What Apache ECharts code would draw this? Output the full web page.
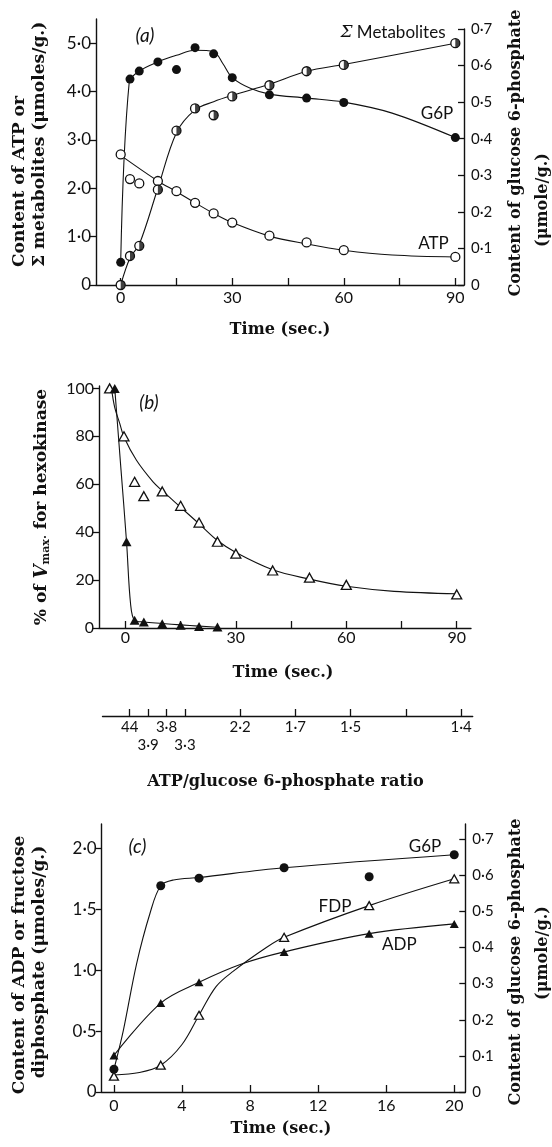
<!DOCTYPE html>
<html><head><meta charset="utf-8">
<script src="https://cdn.jsdelivr.net/npm/echarts@6.0.0/dist/echarts.min.js"></script>
<style>html,body{margin:0;padding:0;background:#fff}#c{width:552px;height:1147px}</style>
</head><body><div id="c"></div>
<script>
// ---------- Panel (a) ----------
const aTime = [0, 2.5, 5, 10, 15, 20, 25, 30, 40, 50, 60, 90];
const aATP  = [2.70, 2.19, 2.10, 2.15, 1.94, 1.70, 1.48, 1.29, 1.02, 0.88, 0.72, 0.58];
const aSum  = [0.0, 0.60, 0.81, 1.97, 3.19, 3.65, 3.51, 3.90, 4.13, 4.42, 4.55, 5.00];
const aG6P  = [0.062, 0.563, 0.585, 0.610, 0.589, 0.649, 0.632, 0.567, 0.520, 0.511, 0.499, 0.403];
const aATPCurveT = [0, 10, 15, 20, 25, 30, 40, 50, 60, 73, 90];
const aATPCurveV = [2.68, 2.15, 1.93, 1.70, 1.48, 1.29, 1.01, 0.85, 0.72, 0.62, 0.58];
const aSumCurveT = [0, 2.5, 5, 10, 15, 20, 25, 30, 40, 50, 60, 90];
const aSumCurveV = [0, 0.56, 0.84, 2.0, 3.15, 3.62, 3.79, 3.92, 4.15, 4.42, 4.56, 5.0];
const aG6PCurveT = [0, 2.3, 5, 10, 15, 20, 25, 27.5, 30, 35, 40, 50, 60, 73, 90];
const aG6PCurveV = [0.062, 0.555, 0.585, 0.61, 0.628, 0.642, 0.638, 0.605, 0.567, 0.537, 0.522, 0.511, 0.5, 0.47, 0.403];
const aTimeTicks = [0, 15, 30, 45, 60, 75, 90];
const aTimeLabels = [0, 30, 60, 90];
const aLeftTicks = [0, 1, 2, 3, 4, 5];
const aRightTicks = [0, 0.1, 0.2, 0.3, 0.4, 0.5, 0.6, 0.7];

// ---------- Panel (b) ----------
const bOpenT = [-4.3, -0.4, 2.5, 5, 10, 15, 20, 25, 30, 40, 50, 60, 90];
const bOpenV = [100, 80, 61, 55, 57, 51, 44, 36, 31, 24, 21, 18, 14];
const bFilledT = [-2.9, 0.3, 2.5, 5, 10, 15, 20, 25];
const bFilledV = [100, 36, 3.2, 2.5, 1.8, 1.1, 0.6, 0.4];
const bOpenCurveT = [-3.8, -2.9, -1.55, -0.4, 3, 7.5, 10, 15, 20, 25, 30, 40, 50, 60, 73, 90];
const bOpenCurveV = [100, 92, 85.4, 79.7, 70, 61, 57.3, 50.4, 43.5, 36.5, 31.5, 24.3, 20.4, 17.4, 15.3, 14.3];
const bFilledCurveT = [-2.9, -1.2, 0.3, 1.4, 2.5, 5, 10, 15, 20, 25];
const bFilledCurveV = [100, 66, 36, 10, 3.2, 2.5, 1.9, 1.3, 0.8, 0.3];
const bYTicks = [0, 20, 40, 60, 80, 100];
const ratioTicks = [0, 5, 10, 15, 30, 45, 60, 75, 90];
const ratioUpperTimes = [0, 10, 30, 45, 60, 90];
const ratioUpperLabels = ['44', '3·8', '2·2', '1·7', '1·5', '1·4'];
const ratioLowerTimes = [5, 15];
const ratioLowerLabels = ['3·9', '3·3'];

// ---------- Panel (c) ----------
const cTime = [0, 2.75, 5, 10, 15, 20];
const cG6P = [0.063, 0.571, 0.592, 0.621, 0.596, 0.657];
const cADP = [0.30, 0.73, 0.90, 1.15, 1.30, 1.38];
const cFDP = [0.13, 0.22, 0.63, 1.27, 1.53, 1.75];
const cG6PCurveT = [0, 0.55, 1.33, 2.12, 2.75, 3.5, 5, 10, 20];
const cG6PCurveV = [0.063, 0.17, 0.355, 0.495, 0.571, 0.587, 0.594, 0.621, 0.657];
const cADPCurveT = [0, 2.75, 5, 7.5, 10, 15, 20];
const cADPCurveV = [0.30, 0.73, 0.90, 1.05, 1.15, 1.30, 1.38];
const cFDPCurveT = [0, 1.5, 2.75, 4, 5, 6, 7, 9, 10, 15, 20];
const cFDPCurveV = [0.14, 0.16, 0.22, 0.39, 0.63, 0.865, 0.99, 1.19, 1.27, 1.53, 1.75];
const cTimeTicks = [0, 4, 8, 12, 16, 20];
const cLeftTicks = [0, 0.5, 1, 1.5, 2];
const cRightTicks = [0, 0.1, 0.2, 0.3, 0.4, 0.5, 0.6, 0.7];

// ---------- helpers ----------
const INK = '#111';
const SANS = 'Lato, "Open Sans", sans-serif';
const SERIF = '"DejaVu Serif", serif';
const pairs = (t, v) => t.map((x, i) => [x, v[i]]);
const dotFmt = d => v => (v === 0 ? '0' : v.toFixed(d).replace('.', '·'));
const mctx = document.createElement('canvas').getContext('2d');
function fitSize(text, target) {
  mctx.font = 'bold 100px ' + SERIF;
  return Math.round(target * 100 / mctx.measureText(text).width * 10) / 10;
}
const TS = fitSize('Content of glucose 6-phosphate', 288);   // common title size
const TSL = TS * 1.06;                                        // left titles slightly larger

function xAxis(grid, min, max, ticks, labels, opts) {
  return Object.assign({
    type: 'value', gridIndex: grid, min, max, position: 'bottom',
    axisLine: {show: true, onZero: false, lineStyle: {color: INK, width: 1.4}},
    axisTick: {show: true, inside: true, length: 7, customValues: ticks, lineStyle: {color: INK, width: 1.3}},
    axisLabel: xLbl(labels, {margin: 4}),
    splitLine: {show: false}
  }, opts || {});
}
function xLbl(labels, extra) {
  return Object.assign({show: true, customValues: labels, color: INK, fontFamily: SANS, fontSize: 16,
    showMinLabel: true, showMaxLabel: true, hideOverlap: false}, extra);
}
function yAxis(grid, min, max, ticks, fmt, pos, inside, size, margin) {
  return {
    type: 'value', gridIndex: grid, min, max, position: pos,
    axisLine: {show: true, onZero: false, lineStyle: {color: INK, width: 1.4}},
    axisTick: {show: true, inside: inside, length: 6, customValues: ticks, lineStyle: {color: INK, width: 1.3}},
    axisLabel: {show: true, customValues: ticks, formatter: fmt, color: INK, fontFamily: SANS, fontSize: size, margin: margin,
      showMinLabel: true, showMaxLabel: true, hideOverlap: false},
    splitLine: {show: false}
  };
}
function curve(name, xi, yi, t, v) {
  return {name, type: 'line', xAxisIndex: xi, yAxisIndex: yi, data: pairs(t, v),
    smooth: 0.35, symbol: 'none', lineStyle: {color: INK, width: 1.1}, z: 2, silent: true};
}
function marks(name, xi, yi, t, v, symbol, size, filled) {
  return {name, type: 'scatter', xAxisIndex: xi, yAxisIndex: yi, data: pairs(t, v),
    symbol, symbolSize: size, z: 5, silent: true,
    itemStyle: {color: filled ? INK : '#fff', borderColor: INK, borderWidth: filled ? 0 : 1.3, opacity: 1}};
}

function vtext(str, x, y, size, align) {
  return {type: 'text', x, y, rotation: Math.PI / 2, silent: true,
    style: {text: str, font: 'bold ' + size + 'px ' + SERIF, fill: INK,
      align: align, textAlign: align, verticalAlign: 'middle', textVerticalAlign: 'middle'}};
}
function htext(str, x, y, font, rich) {
  return {type: 'text', x, y, silent: true,
    style: {text: str, font: font, fill: INK, align: 'center', textAlign: 'center',
      verticalAlign: 'middle', textVerticalAlign: 'middle', rich: rich}};
}
const sansLbl = '17px ' + SANS;
const itLbl = 'italic 19px ' + SANS;

const chart = echarts.init(document.getElementById('c'), null, {renderer: 'canvas'});

const lookup = (times, labels) => v => {
  const i = times.indexOf(v);
  return i < 0 ? '' : labels[i];
};

const option = {
  backgroundColor: '#fff',
  animation: false,
  grid: [
    {left: 96, top: 19, width: 368, height: 266},
    {left: 96, top: 29, width: 368, height: 256},
    {left: 99, top: 386, width: 372, height: 242},
    {left: 102.5, top: 700, width: 370.2, height: 16},
    {left: 101.7, top: 824, width: 363.6, height: 268},
    {left: 102.5, top: 700, width: 370.2, height: 16}
  ],
  xAxis: [
    xAxis(0, -6.64, 92.33, aTimeTicks, aTimeLabels, {axisLabel: xLbl(aTimeLabels, {margin: 5})}),
    xAxis(1, -6.64, 92.33, aTimeTicks, aTimeLabels, {show: false}),
    xAxis(2, -7.18, 93.88, aTimeTicks, aTimeLabels, {axisLabel: xLbl(aTimeLabels, {margin: 2})}),
    xAxis(3, -7.39, 93.15, ratioTicks, ratioUpperTimes,
      {axisLabel: xLbl(ratioUpperTimes, {formatter: lookup(ratioUpperTimes, ratioUpperLabels), fontSize: 15, margin: 4})}),
    xAxis(4, -0.72, 20.65, cTimeTicks, cTimeTicks, {axisLabel: xLbl(cTimeTicks, {margin: 6})}),
    xAxis(5, -7.39, 93.15, [], ratioLowerTimes,
      {axisLine: {show: false}, axisTick: {show: false},
       axisLabel: xLbl(ratioLowerTimes, {formatter: lookup(ratioLowerTimes, ratioLowerLabels), fontSize: 15, margin: 22})})
  ],
  yAxis: [
    yAxis(0, 0, 5.5, aLeftTicks, dotFmt(1), 'left', false, 17, 5),
    yAxis(1, 0, 0.7, aRightTicks, dotFmt(1), 'right', true, 15, 7),
    yAxis(2, 0, 101, bYTicks, v => String(v), 'left', false, 16, 5),
    {type: 'value', gridIndex: 3, min: 0, max: 1, show: false},
    yAxis(4, 0, 2.2, cLeftTicks, dotFmt(1), 'left', false, 17, 5),
    yAxis(4, 0, 0.742, cRightTicks, dotFmt(1), 'right', true, 15, 7),
    {type: 'value', gridIndex: 5, min: 0, max: 1, show: false}
  ],
  series: [
    // (a)
    curve('ATP curve', 0, 0, aATPCurveT, aATPCurveV),
    curve('Σ Metabolites curve', 0, 0, aSumCurveT, aSumCurveV),
    curve('G6P curve', 1, 1, aG6PCurveT, aG6PCurveV),
    marks('ATP', 0, 0, aTime, aATP, 'circle', 9, false),
    marks('Σ Metabolites', 0, 0, aTime, aSum, 'circle', 9, false),
    {name: 'Σ Metabolites half', type: 'scatter', xAxisIndex: 0, yAxisIndex: 0, data: pairs(aTime, aSum),
      symbol: 'path://M0,-1A1,1,0,0,1,0,1Z', symbolSize: [4.5, 9], symbolOffset: [2.25, 0], z: 6, silent: true,
      itemStyle: {color: INK}},
    marks('G6P', 1, 1, aTime, aG6P, 'circle', 9, true),
    // (b)
    curve('open curve', 2, 2, bOpenCurveT, bOpenCurveV),
    curve('filled curve', 2, 2, bFilledCurveT, bFilledCurveV),
    marks('open triangles', 2, 2, bOpenT, bOpenV, 'triangle', [10, 9], false),
    marks('filled triangles', 2, 2, bFilledT, bFilledV, 'triangle', [10, 9], true),
    // (c)
    curve('G6P c curve', 4, 5, cG6PCurveT, cG6PCurveV),
    curve('ADP curve', 4, 4, cADPCurveT, cADPCurveV),
    curve('FDP curve', 4, 4, cFDPCurveT, cFDPCurveV),
    marks('G6P c', 4, 5, cTime, cG6P, 'circle', 9, true),
    marks('ADP', 4, 4, cTime, cADP, 'triangle', [9, 8], true),
    marks('FDP', 4, 4, cTime, cFDP, 'triangle', [9, 8], false)
  ],
  graphic: {elements: [
    // panel (a) titles
    vtext('Content of ATP or', 20, 267, TSL, 'left'),
    vtext('Σ metabolites (μmoles/g.)', 39.5, 267, TSL, 'left'),
    vtext('Content of glucose 6-phosphate', 516, 153, TS, 'center'),
    vtext('(μmole/g.)', 543, 200, TS, 'center'),
    htext('Time (sec.)', 280, 330, 'bold ' + TS + 'px ' + SERIF),
    htext('(a)', 145, 36, itLbl),
    htext('{s|Σ} Metabolites', 393, 32.5, sansLbl, {s: {font: 'italic 17px ' + SERIF, fill: INK}}),
    htext('G6P', 437, 113.5, sansLbl),
    htext('ATP', 433.5, 244, sansLbl),
    // panel (b)
    {type: 'text', x: 42, y: 507, rotation: Math.PI / 2, silent: true,
      style: {text: '% of {v|V}{s|max·} for hexokinase', font: 'bold ' + TSL + 'px ' + SERIF, fill: INK,
        align: 'center', textAlign: 'center', verticalAlign: 'middle', textVerticalAlign: 'middle',
        rich: {v: {font: 'bold italic ' + (TSL + 1) + 'px ' + SERIF, fill: INK},
               s: {font: 'bold 11px ' + SERIF, fill: INK, padding: [8, 0, 0, 0]}}}},
    htext('(b)', 149, 403, itLbl),
    htext('Time (sec.)', 283, 673, 'bold ' + TS + 'px ' + SERIF),
    htext('ATP/glucose 6-phosphate ratio', 285.5, 782, 'bold ' + TS + 'px ' + SERIF),
    // panel (c)
    vtext('Content of ADP or fructose', 20, 965, TSL, 'center'),
    vtext('diphosphate (μmoles/g.)', 39.5, 962, TSL, 'center'),
    vtext('Content of glucose 6-phosphate', 516, 962, TS, 'center'),
    vtext('(μmole/g.)', 543, 953, TS, 'center'),
    htext('Time (sec.)', 281, 1129, 'bold ' + TS + 'px ' + SERIF),
    htext('(c)', 137.5, 846.7, itLbl),
    htext('G6P', 425, 846.7, sansLbl),
    htext('FDP', 335, 906.7, sansLbl),
    htext('ADP', 399.3, 945, sansLbl)
  ]}
};
chart.setOption(option);
</script>
</body></html>
